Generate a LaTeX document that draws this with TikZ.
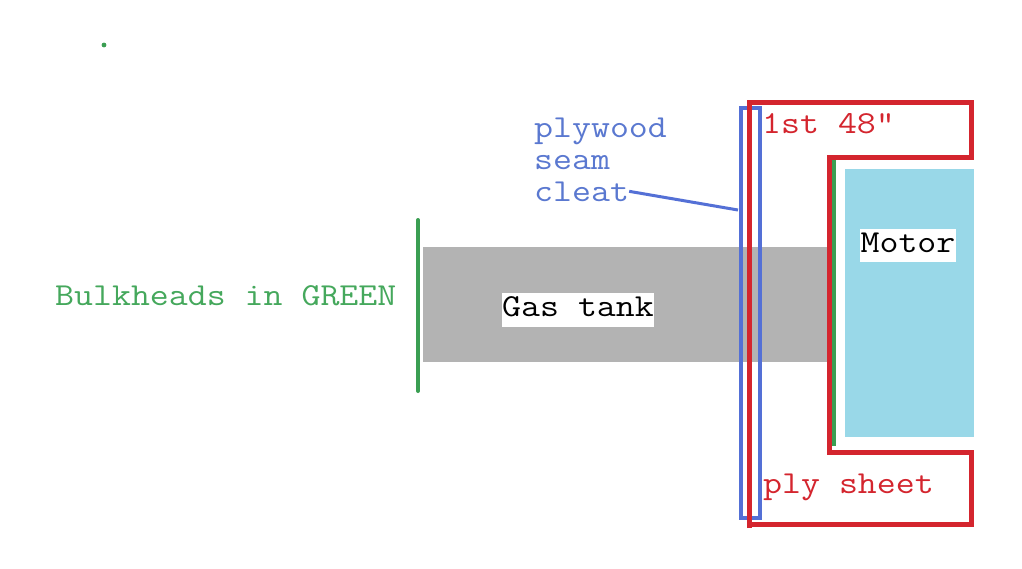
\documentclass[tikz,border=0pt]{standalone}
\usepackage{fontspec}
\usepackage{graphicx}
\definecolor{bgreen}{HTML}{3A9E52}
\definecolor{tgreen}{HTML}{45A85C}
\definecolor{pred}{HTML}{D4252E}
\definecolor{pblue}{HTML}{5470D6}
\definecolor{tblue}{HTML}{5A78D0}
\definecolor{tankgray}{HTML}{B3B3B3}
\definecolor{motorblue}{HTML}{99D8E8}
\newcommand{\cour}[1]{\scalebox{1.15}[1]{#1}}
\tikzset{
  lbl/.style={font=\ttfamily\fontsize{32}{33}\selectfont, inner sep=0pt, anchor=base west},
  wbox/.style={font=\ttfamily\fontsize{32}{33}\selectfont, fill=white, inner sep=0pt, text height=20pt, text depth=7pt},
  solidbox/.style={draw=none, inner sep=0pt}
}
\begin{document}
\begin{tikzpicture}[x=1pt,y=-1pt]
\useasboundingbox[fill=white] (0,0) rectangle (1022,568);
% shapes
\node[solidbox, fill=tankgray, minimum width=406pt, minimum height=115pt] (tank) at (626,304.5) {};
\node[solidbox, fill=motorblue, minimum width=129pt, minimum height=268pt] (motor) at (909.5,303) {};
\draw[bgreen, line width=4pt, line cap=round] (418,220) -- (418,391);
\draw[bgreen, line width=3.5pt] (834,160) -- (834,446);
\fill[bgreen] (104,45) circle (2.4);
\node[draw=pblue, line width=4pt, inner sep=0pt, minimum width=19pt, minimum height=410pt] (bar) at (750.5,313) {};
\draw[pred, line width=5pt, line join=miter] (749,528) -- (749,102) -- (971,102) -- (971,157) -- (829,157) -- (829,452) -- (971,452) -- (971,524) -- (749,524);
% texts
\node[lbl, text=tgreen] (bulk) at (55,305) {\cour{Bulkheads in GREEN}};
\node[wbox, minimum width=152pt, minimum height=34pt] (gas) at (578,310) {\cour{Gas tank}};
\node[wbox, minimum width=96pt, minimum height=33pt] (mot) at (908,245.5) {\cour{Motor}};
\node[lbl, text=tblue] (ply1) at (534,137) {\cour{plywood}};
\node[lbl, text=tblue] (ply2) at (534,169) {\cour{seam}};
\node[lbl, text=tblue] (ply3) at (534,201) {\cour{cleat}};
\node[lbl, text=pred] (first) at (762,133) {\cour{1st 48"}};
\node[lbl, text=pred] (sheet) at (763,493) {\cour{ply sheet}};
% connector
\coordinate (barpt) at (738,210);
\draw[pblue, line width=3pt] (ply3.east) -- (barpt);
\end{tikzpicture}
\end{document}
